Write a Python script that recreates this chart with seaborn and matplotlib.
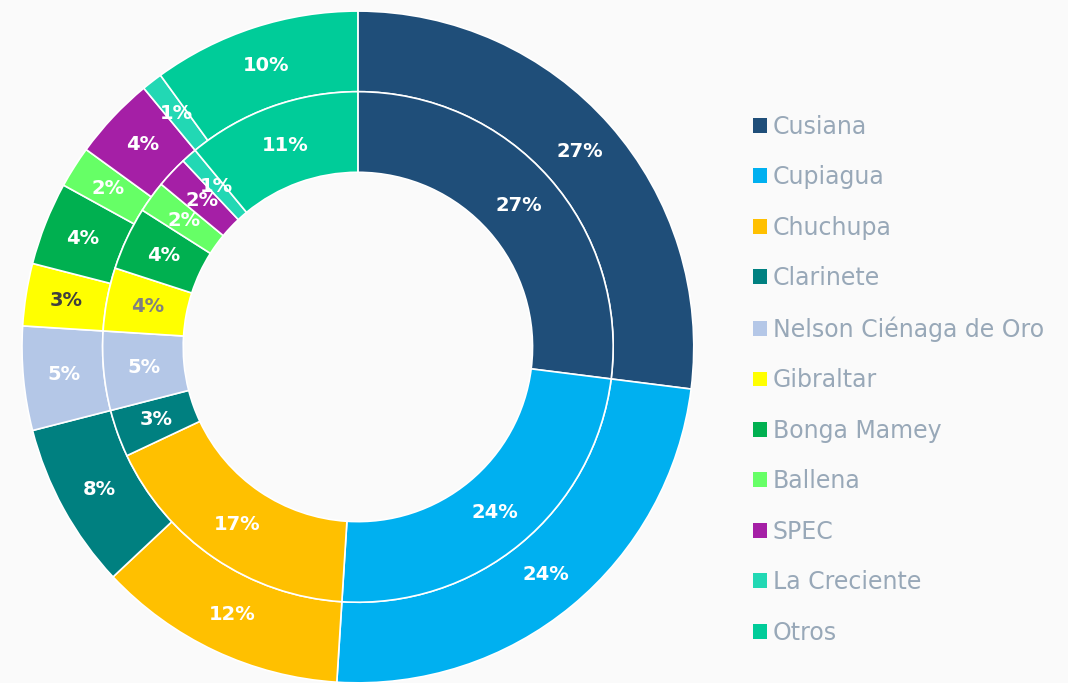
import matplotlib
matplotlib.use("Agg")
import matplotlib.pyplot as plt
import seaborn as sns

# Data
campos = ['Cusiana', 'Cupiagua', 'Chuchupa', 'Clarinete', 'Nelson Ciénaga de Oro',
          'Gibraltar', 'Bonga Mamey', 'Ballena', 'SPEC', 'La Creciente', 'Otros']
externo = [27, 24, 12, 8, 5, 3, 4, 2, 4, 1, 10]
interno = [27, 24, 17, 3, 5, 4, 4, 2, 2, 1, 11]
colores = ['#1f4e79', '#00b0f0', '#ffc000', '#008080', '#b4c7e7', '#ffff00',
           '#00b050', '#66ff66', '#a51fa6', '#22d8b4', '#00cc99']

sns.set_theme(style='white')
plt.rcParams['font.family'] = ['DejaVu Sans']
bg = '#fafafa'

fig = plt.figure(figsize=(10.68, 6.83), dpi=100, facecolor=bg)
ax = fig.add_axes([0.0206, 0.0, 0.629, 0.984])
ax.set_facecolor(bg)

wp = dict(edgecolor='white', linewidth=1.2)
fmt = lambda p: f'{p:.0f}%'

# anillo externo e interno
w_out, _, t_out = ax.pie(externo, radius=1.0, colors=colores, startangle=90,
                         counterclock=False, autopct=fmt, pctdistance=0.88,
                         wedgeprops=dict(width=0.24, **wp))
w_in, _, t_in = ax.pie(interno, radius=0.76, colors=colores, startangle=90,
                       counterclock=False, autopct=fmt, pctdistance=0.84,
                       wedgeprops=dict(width=0.24, **wp))

for t in t_out + t_in:
    t.set_color('white')
    t.set_fontsize(14)
    t.set_fontweight('bold')
t_out[5].set_color('#404040')
t_in[5].set_color('#808080')

ax.set_xlim(-1, 1)
ax.set_ylim(-1, 1)
ax.set_aspect('equal')
ax.axis('off')

leg = fig.legend(w_out, campos, loc='upper left', bbox_to_anchor=(0.696, 0.846),
                 frameon=False, fontsize=17, handlelength=0.59, handleheight=0.59,
                 handletextpad=0.25, labelspacing=1.12, borderaxespad=0)
for txt in leg.get_texts():
    txt.set_color('#98a8b8')
for h in leg.legend_handles:
    h.set_edgecolor('none')

fig.savefig('out.png', dpi=100, facecolor=bg)
